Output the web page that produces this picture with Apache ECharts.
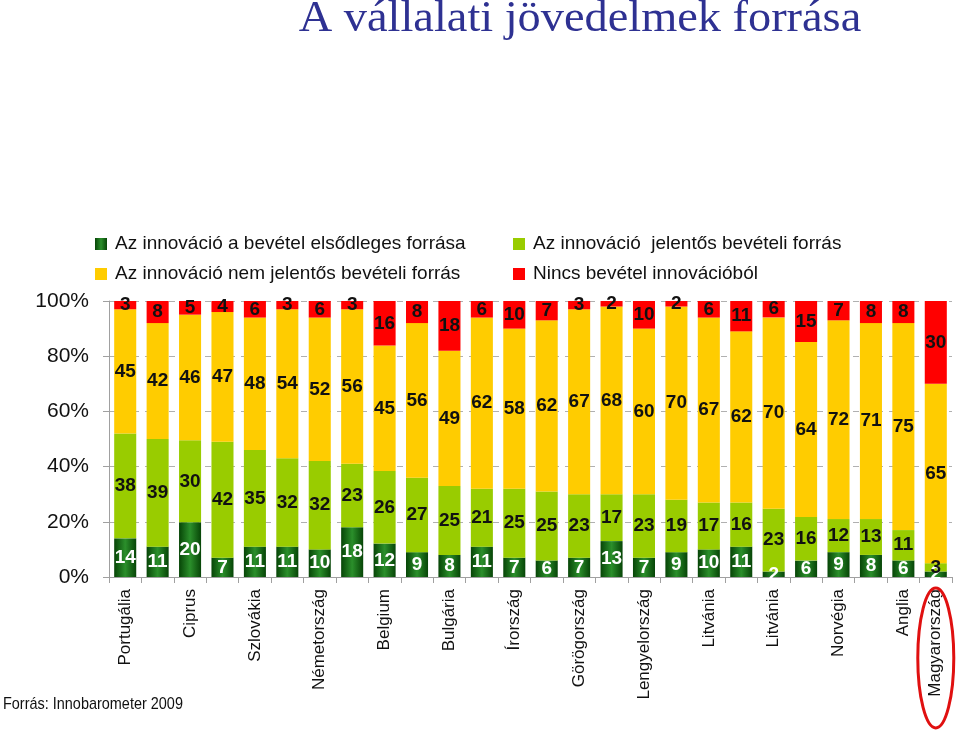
<!DOCTYPE html>
<html>
<head>
<meta charset="utf-8">
<style>html,body{margin:0;padding:0;background:#fff;}#c{width:960px;height:731px;}</style>
<script src="https://cdn.jsdelivr.net/npm/echarts@6/dist/echarts.min.js"></script>
</head>
<body>
<div id="c"></div>
<script>
const categories = ['Portugália','','Ciprus','','Szlovákia','','Németország','','Belgium','','Bulgária','','Írország','','Görögország','','Lengyelország','','Litvánia','','Litvánia','','Norvégia','','Anglia','Magyarország'];
const seriesNames = ['Az innováció a bevétel elsődleges forrása','Az innováció  jelentős bevételi forrás','Az innováció nem jelentős bevételi forrás','Nincs bevétel innovációból'];
const primary    = [14,11,20,7,11,11,10,18,12,9,8,11,7,6,7,13,7,9,10,11,2,6,9,8,6,2];
const significant= [38,39,30,42,35,32,32,23,26,27,25,21,25,25,23,17,23,19,17,16,23,16,12,13,11,3];
const minor      = [45,42,46,47,48,54,52,56,45,56,49,62,58,62,67,68,60,70,67,62,70,64,72,71,75,65];
const none       = [3,8,5,4,6,3,6,3,16,8,18,6,10,7,3,2,10,2,6,11,6,15,7,8,8,30];
const yTicks = ['0%','20%','40%','60%','80%','100%'];
const titleText = 'A vállalati jövedelmek forrása';
const sourceText = 'Forrás: Innobarometer 2009';

const chart = echarts.init(document.getElementById('c'), null, {renderer:'canvas'});
const raw = [primary, significant, minor, none];
const totals = categories.map((_, i) => raw.reduce((s, a) => s + a[i], 0));
const darkGreen = new echarts.graphic.LinearGradient(0,0,1,0,[{offset:0,color:'#074507'},{offset:0.5,color:'#2b8f2b'},{offset:1,color:'#074507'}]);
const colors = [darkGreen, '#99cc00', '#ffcc00', '#ff0000'];
const labelColors = ['#ffffff','#111','#111','#111'];
const NARROW = "'Liberation Sans Narrow','Arial Narrow','Liberation Sans',Arial,sans-serif";

const series = raw.map((arr, k) => ({
  name: seriesNames[k],
  type: 'bar',
  stack: 'all',
  barCategoryGap: '32%',
  itemStyle: {color: colors[k]},
  label: {
    show: true, position: 'inside',
    color: labelColors[k], fontFamily: NARROW, fontWeight: 'bold', fontSize: 19,
    formatter: p => String(arr[p.dataIndex])
  },
  data: arr.map((v, i) => v / totals[i] * 100)
}));

chart.setOption({
  animation: false,
  legend: [
    {data: [seriesNames[0], seriesNames[2]], orient: 'vertical', left: 90, top: 229, itemWidth: 12, itemHeight: 12, itemGap: 10, icon: 'rect',
     textStyle: {fontFamily: NARROW, fontSize: 19, color: '#111', lineHeight: 20, padding: [0,0,0,3]}},
    {data: [seriesNames[1], seriesNames[3]], orient: 'vertical', left: 508, top: 229, itemWidth: 12, itemHeight: 12, itemGap: 10, icon: 'rect',
     textStyle: {fontFamily: NARROW, fontSize: 19, color: '#111', lineHeight: 20, padding: [0,0,0,3]}}
  ],
  grid: {left: 109, right: 8, top: 301, bottom: 154, containLabel: false},
  xAxis: {
    type: 'category', data: categories,
    axisLine: {lineStyle: {color: '#a0a0a0'}},
    axisTick: {show: true, length: 6, lineStyle: {color: '#a0a0a0'}, interval: 0},
    axisLabel: {interval: 0, rotate: 90, color: '#111', fontSize: 17, fontFamily: "'Liberation Sans',Arial,sans-serif", margin: 12}
  },
  yAxis: {
    type: 'value', min: 0, max: 100, interval: 20,
    axisLine: {show: true, lineStyle: {color: '#a0a0a0'}},
    axisTick: {show: true, length: 6, lineStyle: {color: '#a0a0a0'}},
    splitLine: {lineStyle: {color: '#b0b0b0', type: [6,6]}},
    axisLabel: {color: '#111', fontSize: 21, fontFamily: NARROW, margin: 20,
      formatter: v => yTicks[v / 20]}
  },
  series: series
});

const lastX = chart.convertToPixel({xAxisIndex: 0}, categories.length - 1);
chart.setOption({
  graphic: [
    {type: 'text', x: 580, y: -3, scaleX: 1.03, style: {text: titleText, font: "45px 'Liberation Serif','Times New Roman',serif", fill: '#2e3192', align: 'center', verticalAlign: 'top'}},
    {type: 'text', x: 3, y: 696, scaleX: 0.85, style: {text: sourceText, font: "17px " + NARROW, fill: '#111'}},
    {type: 'ellipse', shape: {cx: lastX, cy: 658, rx: 18, ry: 70}, style: {fill: 'none', stroke: '#e01010', lineWidth: 3}, z: 10}
  ]
});
</script>
</body>
</html>
